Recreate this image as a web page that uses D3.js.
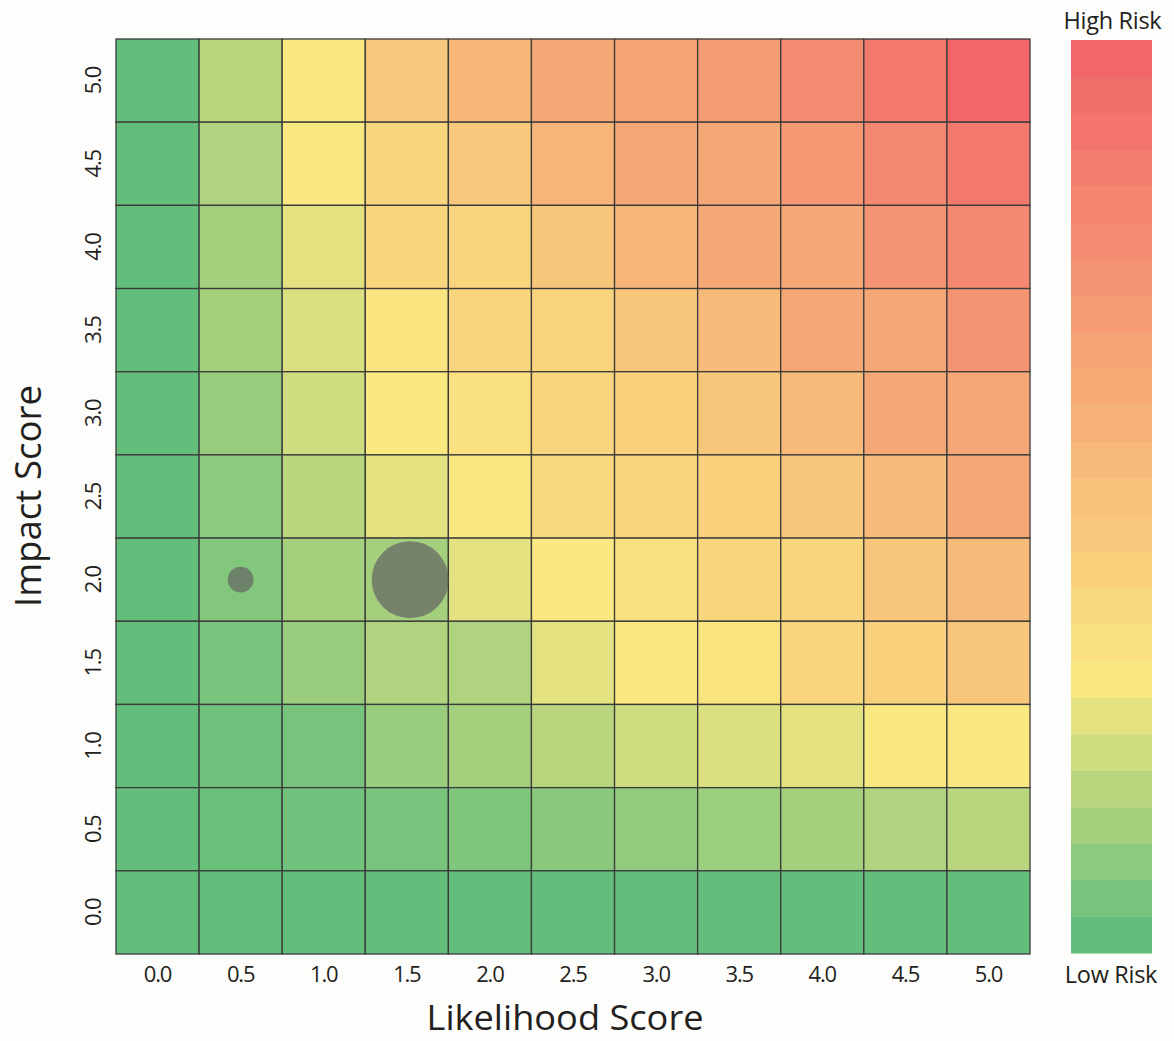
<!DOCTYPE html>
<html>
<head>
<meta charset="utf-8">
<script src="https://cdn.jsdelivr.net/npm/d3@7"></script>
<style>
  html, body { margin: 0; padding: 0; background: #fdfdfb; }
  svg { display: block; }
</style>
</head>
<body>
<svg id="chart" width="1174" height="1041"></svg>
<script>
// ---- Data ----
const likelihoodLabels = ["0.0","0.5","1.0","1.5","2.0","2.5","3.0","3.5","4.0","4.5","5.0"];
const impactLabels     = ["0.0","0.5","1.0","1.5","2.0","2.5","3.0","3.5","4.0","4.5","5.0"];

// Risk level (0 = low … 24 = high) read per cell; rows listed from Impact 5.0 (top) down to 0.0
const risk_5_0 = [0, 4,   7,   11,  13.5, 15.5, 16,   17,   19,   21.5, 24];
const risk_4_5 = [0, 3.5, 7,   9.5, 11,   13.5, 15.5, 15.5, 17.5, 19.5, 21.5];
const risk_4_0 = [0, 3,   6,   9.5, 9.5,  11.5, 13.5, 15.5, 15.5, 18,   19.5];
const risk_3_5 = [0, 3,   5.5, 7.5, 9.5,  9.5,  11.5, 13,   15.5, 15.5, 18];
const risk_3_0 = [0, 2.5, 5,   7,   8,    9.5,  10,   11.5, 13,   15.5, 15.5];
const risk_2_5 = [0, 2,   4,   6,   7,    9,    9.5,  10,   11.5, 13,   15.5];
const risk_2_0 = [0, 1.5, 3,   3,   6,    7,    8,    9.5,  9.5,  11.5, 13];
const risk_1_5 = [0, 1,   2.5, 3.5, 3.5,  6,    7,    7.5,  9.5,  10,   11.5];
const risk_1_0 = [0, 0.5, 1,   2.5, 3,    4,    5,    5.5,  6,    7,    7];
const risk_0_5 = [0, 0.3, 0.6, 1,   1.3,  1.8,  2.2,  2.6,  3,    3.5,  4];
const risk_0_0 = [0, 0,   0,   0,   0,    0,    0,    0,    0,    0,    0];
const riskRowsTopDown = [risk_5_0, risk_4_5, risk_4_0, risk_3_5, risk_3_0, risk_2_5, risk_2_0, risk_1_5, risk_1_0, risk_0_5, risk_0_0];

// Legend levels (25 bands)
const legendLevels = d3.range(25);
const legendLabels = ["High Risk", "Low Risk"];

// Bubbles
const bubbleLikelihood = [0.5, 1.52];
const bubbleImpact     = [2.0, 2.0];
const bubbleCount      = [1, 9];

const xTitle = "Likelihood Score";
const yTitle = "Impact Score";

// ---- Layout ----
const svg = d3.select("#chart");
const plotLeft = 116, plotRight = 1030, plotTop = 39, plotBottom = 954;

const x = d3.scaleBand().domain(likelihoodLabels).range([plotLeft, plotRight]).padding(0);
const y = d3.scaleBand().domain(impactLabels.slice().reverse()).range([plotTop, plotBottom]).padding(0);

const color = d3.scaleLinear()
  .domain([0, 7, 24])
  .range(["#63be7b", "#fae881", "#f2666a"])
  .interpolate(d3.interpolateRgb);

const textColor = "#231f20";
const fontFam = "'Open Sans', 'Noto Sans', sans-serif";

// cells
const cells = [];
riskRowsTopDown.forEach((row, ri) => {
  const imp = impactLabels[impactLabels.length - 1 - ri];
  row.forEach((v, ci) => cells.push({ lik: likelihoodLabels[ci], imp: imp, v: v }));
});

svg.append("g").selectAll("rect").data(cells).join("rect")
  .attr("x", d => x(d.lik))
  .attr("y", d => y(d.imp))
  .attr("width", x.bandwidth())
  .attr("height", y.bandwidth())
  .attr("fill", d => color(d.v))
  .attr("stroke", "#3b3b3b")
  .attr("stroke-width", 1.3);

// bubbles
const xLin = d3.scaleLinear().domain([0, 5]).range([x("0.0") + x.bandwidth() / 2, x("5.0") + x.bandwidth() / 2]);
const yLin = d3.scaleLinear().domain([0, 5]).range([y("0.0") + y.bandwidth() / 2, y("5.0") + y.bandwidth() / 2]);
const r = d3.scaleSqrt().domain([0, 9]).range([0, 38.5]);
const bubbles = bubbleLikelihood.map((l, i) => ({ l: l, i: bubbleImpact[i], c: bubbleCount[i] }));
svg.append("g").selectAll("circle").data(bubbles).join("circle")
  .attr("cx", d => xLin(d.l))
  .attr("cy", d => yLin(d.i))
  .attr("r", d => r(d.c))
  .attr("fill", "#626262")
  .attr("fill-opacity", 0.7);

// x axis
const xAxis = svg.append("g")
  .attr("transform", `translate(0,${plotBottom})`)
  .call(d3.axisBottom(x).tickSize(0).tickPadding(0));
xAxis.select(".domain").remove();
xAxis.selectAll("text")
  .attr("y", 19).attr("dy", null)
  .attr("dominant-baseline", "central")
  .attr("fill", textColor)
  .style("font-family", fontFam)
  .style("font-size", "22px")
  .style("letter-spacing", "-1.2px");

// y axis
const yAxis = svg.append("g")
  .attr("transform", `translate(${plotLeft},0)`)
  .call(d3.axisLeft(y).tickSize(0).tickPadding(0));
yAxis.select(".domain").remove();
yAxis.selectAll("text")
  .attr("x", null).attr("dy", null)
  .attr("transform", "translate(-24,0) rotate(-90)")
  .attr("text-anchor", "middle")
  .attr("dominant-baseline", "central")
  .attr("fill", textColor)
  .style("font-family", fontFam)
  .style("font-size", "22px")
  .style("letter-spacing", "-1.2px");

// axis titles
svg.append("text")
  .attr("x", (plotLeft + plotRight) / 2 - 8).attr("y", 1030)
  .attr("text-anchor", "middle")
  .attr("fill", textColor)
  .attr("textLength", 277).attr("lengthAdjust", "spacingAndGlyphs")
  .style("font-family", fontFam).style("font-size", "34px")
  .text(xTitle);

svg.append("text")
  .attr("transform", `translate(41,496) rotate(-90)`)
  .attr("text-anchor", "middle")
  .attr("fill", textColor)
  .attr("textLength", 222).attr("lengthAdjust", "spacingAndGlyphs")
  .style("font-family", fontFam).style("font-size", "36px")
  .text(yTitle);

// legend (color bar)
const lgX = 1071, lgW = 81, lgTop = 40, lgBottom = 953;
const ly = d3.scaleBand().domain(legendLevels.slice().reverse()).range([lgTop, lgBottom]).padding(0);
svg.append("g").selectAll("rect").data(legendLevels).join("rect")
  .attr("x", lgX)
  .attr("y", d => ly(d))
  .attr("width", lgW)
  .attr("height", ly.bandwidth() + 0.5)
  .attr("fill", d => color(d));

svg.append("text")
  .attr("x", lgX + lgW / 2 + 1).attr("y", 29)
  .attr("text-anchor", "middle")
  .attr("fill", textColor)
  .style("font-family", fontFam).style("font-size", "23.5px")
  .style("letter-spacing", "-0.3px")
  .text(legendLabels[0]);
svg.append("text")
  .attr("x", lgX + lgW / 2 - 0.5).attr("y", 983)
  .attr("text-anchor", "middle")
  .attr("fill", textColor)
  .style("font-family", fontFam).style("font-size", "23.5px")
  .style("letter-spacing", "-0.3px")
  .text(legendLabels[1]);
</script>
</body>
</html>
